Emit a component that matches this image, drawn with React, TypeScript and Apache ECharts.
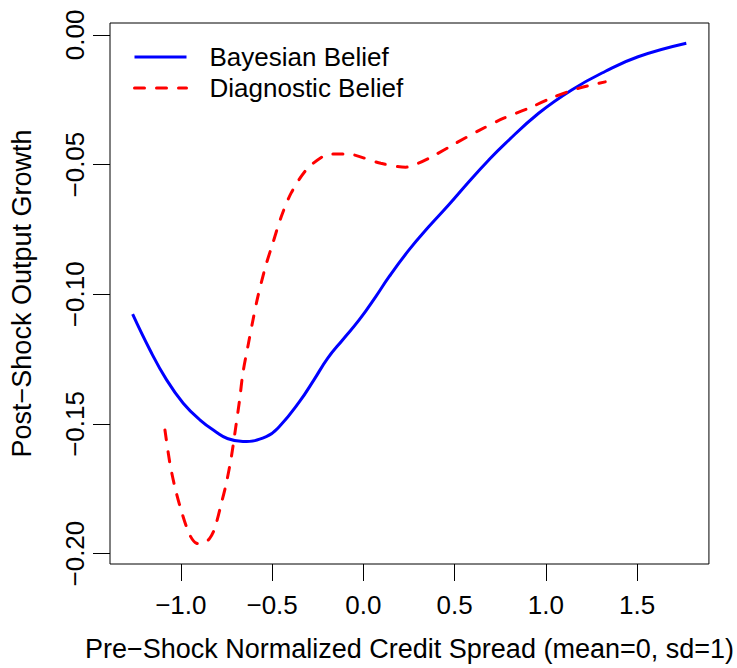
import React, { useEffect, useRef } from "react";
import * as echarts from "echarts";

// Pre-shock normalized credit spread (x) vs post-shock output growth (y)
const bayesianX = [
  -1.264, -1.169, -1.078, -0.987, -0.896, -0.805, -0.745, -0.66, -0.532,
  -0.46, -0.35, -0.269, -0.196, -0.114, -0.023, 0.068, 0.141, 0.25, 0.359, 0.468,
  0.578, 0.687, 0.778, 0.96, 1.141, 1.324, 1.505, 1.769,
];
const bayesianY = [
  -0.1077, -0.1215, -0.133, -0.142, -0.1484, -0.1532, -0.1556, -0.1568,
  -0.1549, -0.151, -0.1414, -0.1328, -0.1247, -0.1176, -0.1099, -0.1009, -0.0932,
  -0.0829, -0.0739, -0.0655, -0.0566, -0.0482, -0.0418, -0.0302, -0.0212,
  -0.0141, -0.0084, -0.0032,
];

const diagnosticX = [
  -1.087, -1.06, -1.033, -0.996, -0.951, -0.914, -0.88, -0.842, -0.814, -0.778,
  -0.751, -0.723, -0.696, -0.678, -0.66, -0.633, -0.605, -0.578, -0.536, -0.496,
  -0.45, -0.396, -0.314, -0.223, -0.169, -0.11, -0.05, 0.0955, 0.232, 0.3, 0.377,
  0.505, 0.632, 0.769, 0.905, 1.041, 1.178, 1.325,
];
const diagnosticY = [
  -0.1523, -0.1651, -0.1742, -0.1838, -0.1928, -0.196, -0.1962, -0.1941, -0.1902,
  -0.1806, -0.1729, -0.1626, -0.1497, -0.1407, -0.1304, -0.1202, -0.11, -0.1009,
  -0.0893, -0.0803, -0.0701, -0.061, -0.0521, -0.0469, -0.0459, -0.0459, -0.0463,
  -0.0495, -0.051, -0.0495, -0.0469, -0.0418, -0.0369, -0.0321, -0.0283, -0.024,
  -0.0206, -0.0181,
];

const xTicks = [-1.0, -0.5, 0.0, 0.5, 1.0, 1.5];
const yTicks = [-0.2, -0.15, -0.1, -0.05, 0.0];

const seriesNames = ["Bayesian Belief", "Diagnostic Belief"];

const FONT = "'Liberation Sans', Arial, Helvetica, sans-serif";
const FS = 26;

const fmt = (v: number, digits: number) => {
  const s = Math.abs(v).toFixed(digits);
  return v < -1e-9 ? "\u2212" + s : s;
};

const zip = (xs: number[], ys: number[]) => xs.map((x, i) => [x, ys[i]]);

export default function App() {
  const ref = useRef<HTMLDivElement>(null);

  useEffect(() => {
    if (!ref.current) return;
    const chart = echarts.init(ref.current, undefined, { renderer: "svg" });
    chart.setOption({
      animation: false,
      backgroundColor: "#ffffff",
      textStyle: { fontFamily: FONT, color: "#000" },
      grid: {
        left: 110,
        top: 23,
        width: 601,
        height: 541,
        show: true,
        borderColor: "#000",
        borderWidth: 1,
        backgroundColor: "transparent",
      },
      legend: {
        orient: "vertical",
        left: 133,
        top: 44,
        padding: 0,
        itemWidth: 52,
        itemHeight: 26,
        itemGap: 5,
        data: seriesNames,
        itemStyle: { opacity: 0, borderWidth: 0 },
        lineStyle: { width: 3 },
        textStyle: {
          fontFamily: FONT,
          fontSize: FS,
          color: "#000",
          lineHeight: 26,
          padding: [0, 0, 0, 18],
        },
      },
      xAxis: {
        type: "value",
        min: -1.388,
        max: 1.893,
        name: "Pre\u2212Shock Normalized Credit Spread (mean=0, sd=1)",
        nameLocation: "middle",
        nameGap: 71,
        nameTextStyle: { fontFamily: FONT, fontSize: 27, color: "#000" },
        axisLine: { show: false, onZero: false },
        splitLine: { show: false },
        axisTick: {
          show: true,
          length: 17,
          customValues: xTicks,
          lineStyle: { color: "#000", width: 1 },
        },
        axisLabel: {
          customValues: xTicks,
          margin: 28,
          fontFamily: FONT,
          fontSize: FS,
          color: "#000",
          formatter: (v: number) => fmt(v, 1),
        },
      },
      yAxis: {
        type: "value",
        min: -0.204,
        max: 0.0046,
        name: "Post\u2212Shock Output Growth",
        nameLocation: "middle",
        nameGap: 75,
        nameRotate: 90,
        nameTextStyle: { fontFamily: FONT, fontSize: 27, color: "#000" },
        axisLine: { show: false, onZero: false },
        splitLine: { show: false },
        axisTick: {
          show: true,
          length: 17,
          customValues: yTicks,
          lineStyle: { color: "#000", width: 1 },
        },
        axisLabel: {
          customValues: yTicks,
          rotate: 90,
          margin: 22,
          fontFamily: FONT,
          fontSize: FS,
          color: "#000",
          formatter: (v: number) => fmt(v, 2),
        },
      },
      series: [
        {
          name: seriesNames[0],
          type: "line",
          data: zip(bayesianX, bayesianY),
          smooth: 0.45,
          showSymbol: false,
          symbol: "none",
          lineStyle: { color: "#0000ff", width: 3 },
          itemStyle: { color: "#0000ff" },
        },
        {
          name: seriesNames[1],
          type: "line",
          data: zip(diagnosticX, diagnosticY),
          smooth: 0.3,
          showSymbol: false,
          symbol: "none",
          lineStyle: {
            color: "#ff0000",
            width: 3,
            type: [10, 12],
            cap: "round",
          },
          itemStyle: { color: "#ff0000" },
        },
      ],
    });
    return () => chart.dispose();
  }, []);

  return (
    <div
      ref={ref}
      style={{ position: "fixed", left: 0, top: 0, width: 737, height: 668 }}
    />
  );
}
